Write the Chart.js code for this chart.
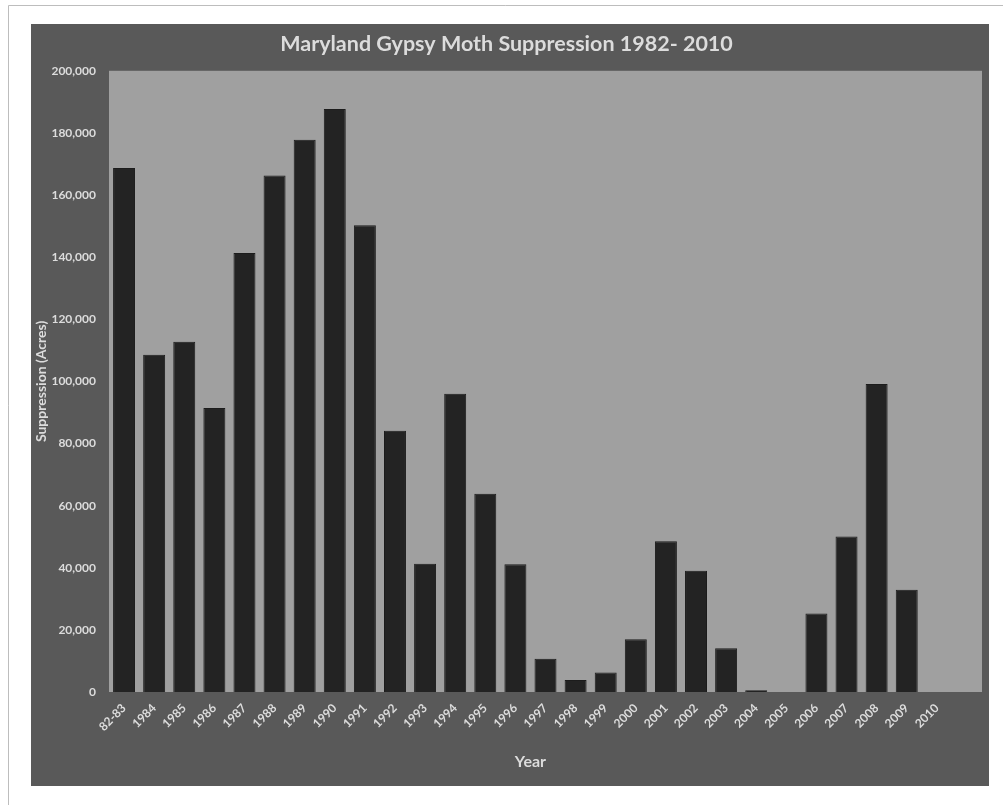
<!DOCTYPE html>
<html>
<head>
<meta charset="utf-8">
<script src="https://cdn.jsdelivr.net/npm/chart.js@4.4.1/dist/chart.umd.min.js"></script>
<style>
  html, body { margin: 0; padding: 0; background: #ffffff; }
  #wrap { width: 1003px; height: 805px; position: relative; }
</style>
</head>
<body>
<div id="wrap"><canvas id="c"></canvas></div>
<script>
const categories = ['82-83','1984','1985','1986','1987','1988','1989','1990','1991','1992','1993','1994','1995','1996','1997','1998','1999','2000','2001','2002','2003','2004','2005','2006','2007','2008','2009','2010',''];
const suppressionAcres = [168700,108600,112800,91400,141300,166300,177800,187700,150300,84100,41300,96000,63800,41100,10700,3900,6300,17000,48500,39000,14100,600,0,25300,50100,99200,32900,0,null];
const titleText = 'Maryland Gypsy Moth Suppression 1982- 2010';
const yTitle = 'Suppression (Acres)';
const xTitle = 'Year';

const FONT = 'Lato, "Open Sans", sans-serif';
const TEXT = '#dcdcdc';

const framePlugin = {
  id: 'frame',
  beforeDraw(chart) {
    const ctx = chart.ctx;
    const a = chart.chartArea;
    ctx.save();
    ctx.fillStyle = '#ffffff';
    ctx.fillRect(0, 0, chart.width, chart.height);
    ctx.strokeStyle = '#bdbdbd';
    ctx.lineWidth = 1;
    ctx.beginPath();
    ctx.moveTo(8.5, chart.height);
    ctx.lineTo(8.5, 5.5);
    ctx.lineTo(chart.width, 5.5);
    ctx.stroke();
    ctx.fillStyle = '#595959';
    ctx.fillRect(31, 24, 958, 762);
    ctx.fillStyle = '#a0a0a0';
    ctx.fillRect(a.left, a.top, a.right - a.left, a.bottom - a.top);
    ctx.restore();
  },
  afterDraw(chart) {
    const ctx = chart.ctx;
    const x = chart.scales.x;
    // Excel centres the axis title over the filled categories
    const first = x.getPixelForValue(0);
    const last = x.getPixelForValue(categories.length - 2);
    ctx.save();
    ctx.fillStyle = TEXT;
    ctx.font = 'bold 16px ' + FONT;
    ctx.textAlign = 'center';
    ctx.textBaseline = 'middle';
    ctx.fillText(xTitle, (first + last) / 2, 762);
    ctx.restore();
  }
};

new Chart(document.getElementById('c'), {
  type: 'bar',
  data: {
    labels: categories,
    datasets: [{
      data: suppressionAcres,
      backgroundColor: '#232323',
      borderColor: '#1c1c1c',
      borderWidth: 1,
      barPercentage: 0.73,
      categoryPercentage: 1.0
    }]
  },
  options: {
    responsive: true,
    maintainAspectRatio: false,
    animation: false,
    devicePixelRatio: 1,
    layout: { padding: { left: 31, right: 21, top: 24, bottom: 19 } },
    plugins: {
      legend: { display: false },
      tooltip: { enabled: false },
      title: {
        display: true,
        text: titleText,
        color: TEXT,
        font: { family: FONT, size: 21.5, weight: 'bold', lineHeight: 1.2 },
        padding: { top: 7, bottom: 14 }
      }
    },
    scales: {
      x: {
        grid: { display: false, drawTicks: false },
        border: { display: false },
        ticks: {
          color: TEXT,
          font: { family: FONT, size: 12, weight: 'bold' },
          minRotation: 45,
          maxRotation: 45,
          autoSkip: false,
          padding: 9
        },
        afterFit(scale) { scale.height = 94; }
      },
      y: {
        min: 0,
        max: 200000,
        grid: { display: false, drawTicks: false },
        border: { display: false },
        ticks: {
          stepSize: 20000,
          color: TEXT,
          font: { family: FONT, size: 12, weight: 'bold' },
          padding: 13,
          callback: v => Number(v).toLocaleString('en-US')
        },
        title: {
          display: true,
          text: yTitle,
          color: TEXT,
          font: { family: FONT, size: 14, weight: 'bold' },
          padding: { top: 2, bottom: 0 }
        },
        afterFit(scale) { scale.width = 78; }
      }
    }
  },
  plugins: [framePlugin]
});
</script>
</body>
</html>
